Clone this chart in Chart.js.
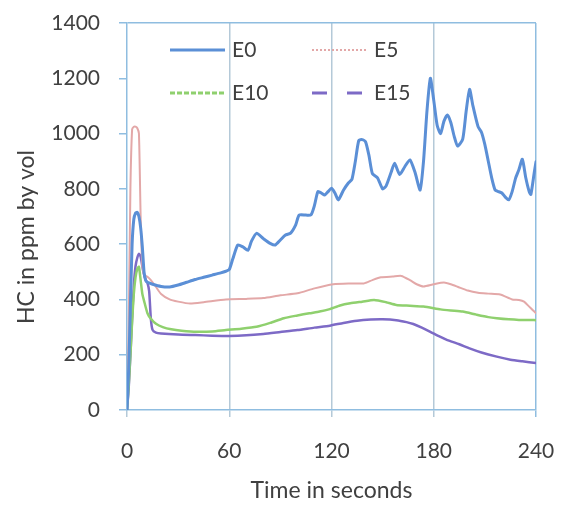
<!DOCTYPE html>
<html><head><meta charset="utf-8">
<script src="https://cdn.jsdelivr.net/npm/chart.js@4/dist/chart.umd.min.js"></script>
<style>html,body{margin:0;padding:0;background:#fff;}#wrap{width:571px;height:506px;position:relative;}</style>
</head><body><div id="wrap"><canvas id="c"></canvas></div>
<script>
const seriesNames = ['E0', 'E5', 'E10', 'E15'];
const xTickValues = [0, 60, 120, 180, 240];
const yTickValues = [0, 200, 400, 600, 800, 1000, 1200, 1400];
const xTitle = 'Time in seconds';
const yTitle = 'HC in ppm by vol';

const e0Time = [0,1,2,3,4,5,6,7,8,9,10,11,12,15,20,25,30,35,40,45,50,55,58,60,62,65,68,71,73,76,80,84,87,90,93,96,99,101,105,108,110,112,114,116,118,120,122,124,127,130,132,134,136,138,140,142,144,147,150,152,155,157,160,163,166,169,172,174,176,178,180,182,184,186,188,190,192,194,197,199,201,203,206,208,210,212,214,216,218,220,222,224,226,228,230,232,234,236,237,239,240];
const e0Value = [0,150,380,600,690,712,715,700,660,590,500,468,462,455,447,445,452,462,472,480,488,496,502,508,545,597,590,578,610,639,620,603,597,615,633,640,670,705,705,706,740,790,785,778,790,802,785,760,795,822,835,900,975,978,970,920,855,840,800,810,860,893,852,880,905,860,796,900,1080,1200,1120,1030,1000,1045,1067,1040,990,955,980,1080,1160,1100,1025,1005,960,900,840,796,790,785,770,760,790,838,870,907,840,790,780,860,898];

const e5Time = [0,1,2,3,4,5,6,7,8,9,10,12,14,17,20,25,30,37,45,58,70,80,90,100,110,121,130,139,144,149,156,161,166,170,174,180,186,190,194,200,206,212,219,226,230,233,236,238,240];
const e5Value = [0,300,800,1015,1025,1025,1020,1000,700,520,490,482,470,445,420,400,392,385,390,400,402,405,415,422,440,455,458,458,470,480,483,485,470,455,447,455,461,455,446,432,424,421,418,400,398,392,374,362,350];

const e10Time = [0,1,2,3,4,5,6,7,8,9,10,12,14,17,21,26,32,41,50,58,67,76,84,92,100,107,113,119,125,131,138,145,152,158,166,174,184,190,197,205,212,217,224,230,235,240];
const e10Value = [0,90,200,320,420,480,510,518,470,420,395,350,330,312,300,292,287,283,284,289,294,301,315,332,342,350,356,365,378,386,392,398,390,380,377,374,364,360,356,345,336,332,328,326,326,325];

const e15Time = [0,1,2,3,4,5,6,7,8,9,10,11,12,13,14,15,17,20,30,40,50,60,70,80,90,100,110,119,127,135,143,150,158,164,168,173,178,183,188,195,201,208,217,225,232,240];
const e15Value = [0,80,200,330,450,520,550,565,555,520,490,470,460,430,330,290,280,277,273,271,269,268,270,275,282,289,298,305,315,323,327,328,325,318,311,298,283,267,253,238,223,208,193,182,176,170];

const toPoints = (ts, vs) => ts.map((t, i) => ({x: t, y: vs[i]}));

const FONT = 'Lato, "Open Sans", sans-serif';
const TEXT = '#404040';
const AXIS = '#8fbde0';
const GRID = '#b4c9d8';

const legendPlugin = {
  id: 'insideLegend',
  afterDraw(chart, args, opts) {
    const ctx = chart.ctx;
    ctx.save();
    ctx.font = opts.fontSize + 'px ' + FONT;
    ctx.textBaseline = 'middle';
    ctx.textAlign = 'left';
    opts.items.forEach(it => {
      const ds = chart.data.datasets[it.index];
      ctx.beginPath();
      ctx.setLineDash(it.dash);
      ctx.lineWidth = it.width;
      ctx.strokeStyle = ds.borderColor;
      ctx.moveTo(it.x, it.y);
      ctx.lineTo(it.x + opts.sample, it.y);
      ctx.stroke();
      ctx.setLineDash([]);
      ctx.fillStyle = TEXT;
      ctx.fillText(ds.label, it.x + opts.sample + opts.gap, it.y);
    });
    ctx.font = opts.titleSize + 'px ' + FONT;
    ctx.translate(opts.yTitleX, opts.yTitleY);
    ctx.rotate(-Math.PI / 2);
    ctx.textAlign = 'center';
    ctx.fillText(yTitle, 0, 0);
    ctx.restore();
  }
};

new Chart(document.getElementById('c'), {
  type: 'line',
  data: {
    datasets: [
      {label: seriesNames[0], data: toPoints(e0Time, e0Value), borderColor: '#5b8fd6', borderWidth: 3},
      {label: seriesNames[1], data: toPoints(e5Time, e5Value), borderColor: '#e3a8a8', borderWidth: 2},
      {label: seriesNames[2], data: toPoints(e10Time, e10Value), borderColor: '#8fd06e', borderWidth: 2.5},
      {label: seriesNames[3], data: toPoints(e15Time, e15Value), borderColor: '#7d6ac6', borderWidth: 2.5}
    ]
  },
  options: {
    responsive: true,
    maintainAspectRatio: false,
    animation: false,
    devicePixelRatio: 1,
    elements: {point: {radius: 0}, line: {tension: 0.2, borderCapStyle: 'round', borderJoinStyle: 'round'}},
    layout: {padding: {top: 23, right: 35, left: 0, bottom: 0}},
    plugins: {
      legend: {display: false},
      tooltip: {enabled: false},
      insideLegend: {
        fontSize: 21, titleSize: 23, sample: 55, gap: 7,
        yTitleX: 27, yTitleY: 237,
        items: [
          {index: 0, x: 170, y: 50, dash: [], width: 3},
          {index: 1, x: 312, y: 50, dash: [2, 2], width: 2},
          {index: 2, x: 170, y: 93, dash: [5, 2], width: 3},
          {index: 3, x: 312, y: 93, dash: [15, 20], width: 3}
        ]
      }
    },
    scales: {
      x: {
        type: 'linear', min: 0, max: 240,
        afterBuildTicks: s => { s.ticks = xTickValues.map(v => ({value: v})); },
        afterFit: s => { s.height = 96; s.paddingLeft = 0; s.paddingRight = 0; },
        border: {color: AXIS, width: 1.5},
        grid: {
          color: c => c.tick.value === 0 ? 'rgba(0,0,0,0)' : (c.tick.value === 240 ? AXIS : GRID),
          tickColor: c => c.tick.value === 240 ? AXIS : GRID,
          lineWidth: 1.5, tickLength: 7
        },
        ticks: {color: TEXT, font: {family: FONT, size: 21}, padding: 22, maxRotation: 0, callback: v => String(v)},
        title: {display: true, text: xTitle, color: TEXT, font: {family: FONT, size: 23}, padding: {top: 0, bottom: 2}}
      },
      y: {
        type: 'linear', min: 0, max: 1400,
        afterBuildTicks: s => { s.ticks = yTickValues.map(v => ({value: v})); },
        afterFit: s => { s.width = 127; s.paddingTop = 0; s.paddingBottom = 0; },
        border: {color: AXIS, width: 1.5},
        grid: {
          color: c => c.tick.value === 1400 ? AXIS : 'rgba(0,0,0,0)',
          tickColor: AXIS, lineWidth: 1.5, tickLength: 8
        },
        ticks: {color: TEXT, font: {family: FONT, size: 21}, padding: 19, callback: v => String(v)}
      }
    }
  },
  plugins: [legendPlugin]
});
</script>
</body></html>
